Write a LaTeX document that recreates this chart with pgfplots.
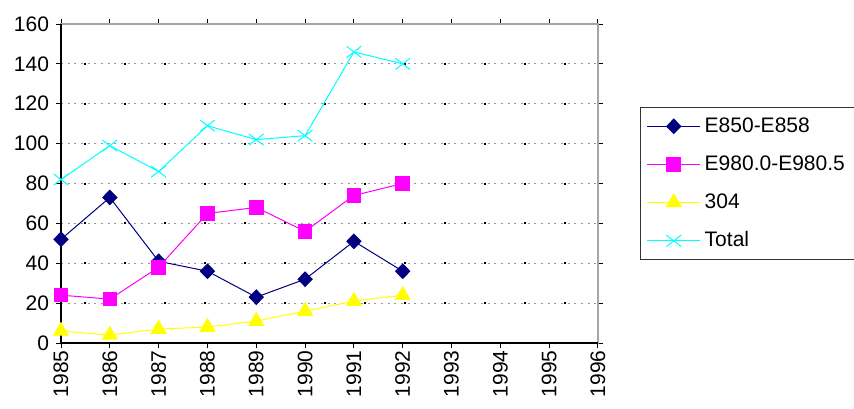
\documentclass[border=0pt]{standalone}
\usepackage{fontspec}
\setmainfont{Liberation Sans}
\usepackage{pgfplots}
\pgfplotsset{compat=1.18}

\definecolor{sNavy}{RGB}{0,0,128}
\definecolor{sMagenta}{RGB}{255,0,255}
\definecolor{sYellow}{RGB}{255,255,0}
\definecolor{sCyan}{RGB}{0,255,255}

\begin{document}
\begin{tikzpicture}
\useasboundingbox (-30.5pt,-32.5pt) rectangle (396.5pt,171.5pt);
\begin{axis}[
  scale only axis,
  width=268.5pt, height=159.5pt,
  xmin=1985, xmax=1996,
  ymin=0, ymax=160,
  xtick={1985,...,1996},
  xticklabels={1985,1986,1987,1988,1989,1990,1991,1992,1993,1994,1995,1996},
  ytick={0,20,...,160},
  tick align=outside,
  major tick length=2.5pt,
  tick style={black, line width=0.5pt},
  axis line style={draw=gray!70, line width=0.6pt},
  ymajorgrids,
  major grid style={draw=gray!80, line width=0.5pt, dash pattern=on 1pt off 2.333pt,
    postaction={draw=black, line width=1pt, dash pattern=on 1pt off 19pt, dash phase=8.3pt}},
  font=\fontsize{10.5}{12.6}\selectfont,
  yticklabel style={/pgf/number format/assume math mode=true, font=\fontsize{10.5}{12.6}\selectfont},
  xticklabel style={rotate=90, anchor=east, inner sep=1pt, font=\fontsize{10.5}{12.6}\selectfont},
  clip=false,
  legend cell align=left,
  legend style={at={(axis description cs:1,1)}, anchor=north west, xshift=21pt, yshift=-41.5pt,
    draw=black!80, line width=0.5pt, fill=white, font=\fontsize{10.5}{12.6}\selectfont,
    row sep=6.2pt, inner xsep=3pt, inner ysep=3pt},
  legend image code/.code={\draw[mark repeat=2,mark phase=2] plot coordinates {(0cm,0cm) (0.47cm,0cm) (0.935cm,0cm)};},
]
% diagnosis groups per year
\addplot[sNavy, line width=0.5pt, mark=diamond*, mark size=3.6pt, mark options={xscale=1.3, fill=sNavy}]
  coordinates {(1985,52) (1986,73) (1987,41) (1988,36) (1989,23) (1990,32) (1991,51) (1992,36)};
\addlegendentry{E850-E858}
\addplot[sMagenta, line width=0.5pt, mark=square*, mark size=3.4pt, mark options={fill=sMagenta}]
  coordinates {(1985,24) (1986,22) (1987,38) (1988,65) (1989,68) (1990,56) (1991,74) (1992,80)};
\addlegendentry{E980.0-E980.5}
\addplot[sYellow, line width=0.5pt, mark=triangle*, mark size=4.2pt, mark options={fill=sYellow}]
  coordinates {(1985,6) (1986,4) (1987,7) (1988,8) (1989,11) (1990,16) (1991,21) (1992,24)};
\addlegendentry{304}
\addplot[sCyan, line width=0.5pt, mark=x, mark size=4pt, mark options={xscale=1.3}]
  coordinates {(1985,82) (1986,99) (1987,86) (1988,109) (1989,102) (1990,104) (1991,146) (1992,140)};
\addlegendentry{Total}
% left and bottom axis lines in black
\draw[black, line width=0.6pt] (rel axis cs:0,1) -- (rel axis cs:0,0) -- (rel axis cs:1,0);
\end{axis}
\end{tikzpicture}
\end{document}
